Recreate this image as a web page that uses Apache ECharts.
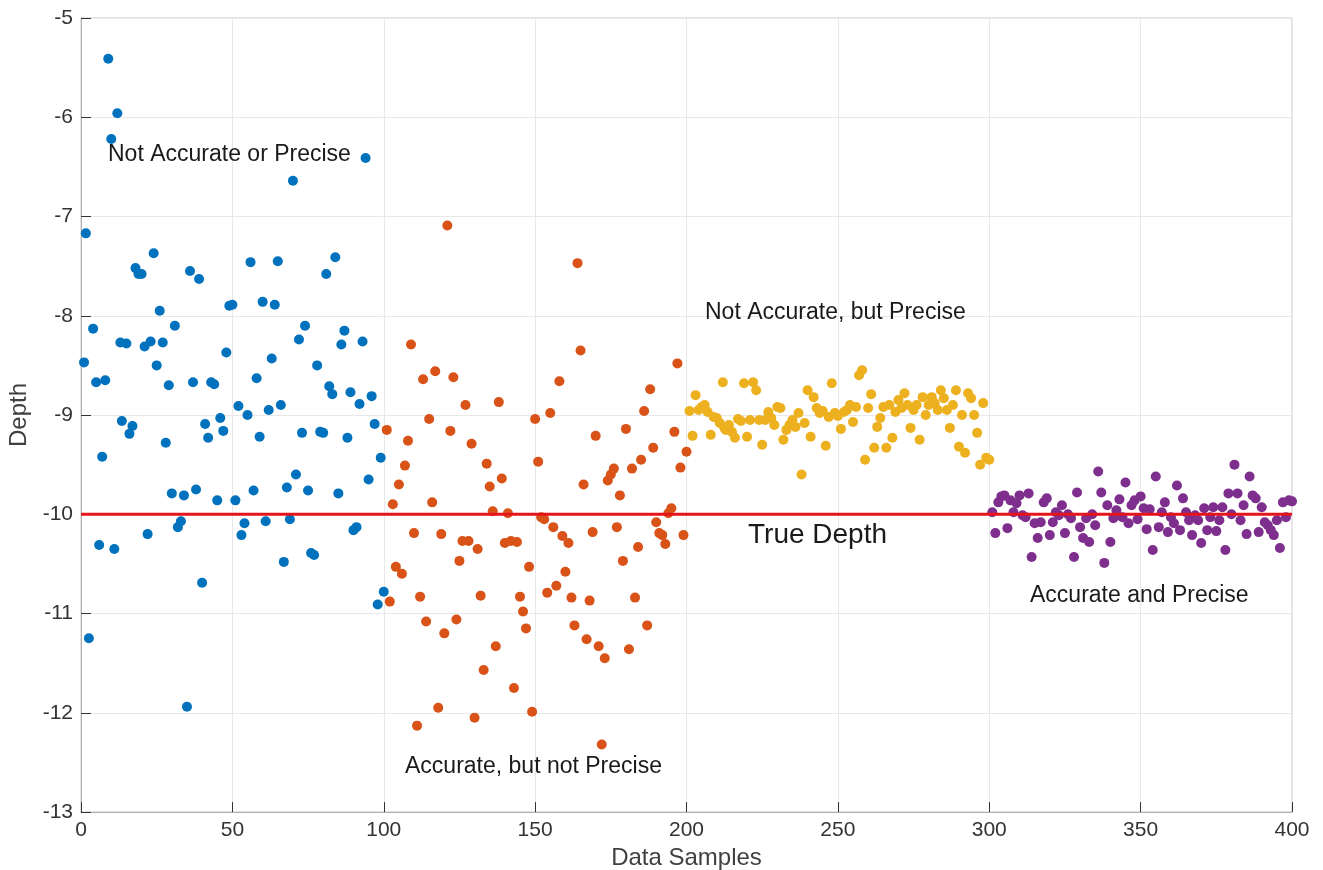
<!DOCTYPE html>
<html><head><meta charset="utf-8">
<script src="https://cdn.jsdelivr.net/npm/echarts@6/dist/echarts.min.js"></script>
<style>html,body{margin:0;padding:0;background:#fff}#c{width:1323px;height:870px}</style>
</head><body><div id="c"></div>
<script>
// x tick values and labels
const xTicks = [0,50,100,150,200,250,300,350,400];
const yTicks = [-13,-12,-11,-10,-9,-8,-7,-6,-5];
const trueDepth = -10;

// Series 1: Not Accurate or Precise (samples 1-100)
const blueX = [1.6,1,2.6,4,5,6,7,8,9,10,11,12,13,13.5,15,16,17,18,19,20,21,22,23,24,25,26,27,28,29,30,31,32,33,34,35,36,37,38,39,40,41,42,43,44,45,46,47,48,49,50,51,52,53,54,55,56,57,58,59,60,61,62,63,64,65,66,67,68,69,70,71,72,73,74,75,76,77,78,79,80,81,82,83,84,85,86,87,88,89,90,91,92,93,94,95,96,97,98,99,100];
const blueY = [-7.17,-8.47,-11.25,-8.13,-8.67,-10.31,-9.42,-8.65,-5.41,-6.22,-10.35,-5.96,-8.27,-9.06,-8.28,-9.19,-9.11,-7.52,-7.58,-7.58,-8.31,-10.2,-8.26,-7.37,-8.5,-7.95,-8.27,-9.28,-8.7,-9.79,-8.1,-10.13,-10.07,-9.81,-11.94,-7.55,-8.67,-9.75,-7.63,-10.69,-9.09,-9.23,-8.67,-8.69,-9.86,-9.03,-9.16,-8.37,-7.9,-7.89,-9.86,-8.91,-10.21,-10.09,-9.0,-7.46,-9.76,-8.63,-9.22,-7.86,-10.07,-8.95,-8.43,-7.89,-7.45,-8.9,-10.48,-9.73,-10.05,-6.64,-9.6,-8.24,-9.18,-8.1,-9.76,-10.39,-10.41,-8.5,-9.17,-9.18,-7.58,-8.71,-8.79,-7.41,-9.79,-8.29,-8.15,-9.23,-8.77,-10.16,-10.13,-8.89,-8.26,-6.41,-9.65,-8.81,-9.09,-10.91,-9.43,-10.78];

// Series 2: Accurate, but not Precise (samples 101-200)
const orangeX = [101,102,103,104,105,106,107,108,109,110,111,112,113,114,115,116,117,118,119,120,121,122,123,124,125,126,127,128,129,130,131,132,133,134,135,136,137,138,139,140,141,142,143,144,145,146,147,148,149,150,151,152,153,154,155,156,157,158,159,160,161,162,163,164,165,166,167,168,169,170,171,172,173,174,175,176,177,178,179,180,181,182,183,184,185,186,187,188,189,190,191,192,193,194,195,196,197,198,199,200];
const orangeY = [-9.15,-10.88,-9.9,-10.53,-9.7,-10.6,-9.51,-9.26,-8.29,-10.19,-12.13,-10.83,-8.64,-11.08,-9.04,-9.88,-8.56,-11.95,-10.2,-11.2,-7.09,-9.16,-8.62,-11.06,-10.47,-10.27,-8.9,-10.27,-9.29,-12.05,-10.35,-10.82,-11.57,-9.49,-9.72,-9.97,-11.33,-8.87,-9.64,-10.29,-9.99,-10.27,-11.75,-10.28,-10.83,-10.98,-11.15,-10.53,-11.99,-9.04,-9.47,-10.03,-10.05,-10.79,-8.98,-10.13,-10.72,-8.66,-10.22,-10.58,-10.29,-10.84,-11.12,-7.47,-8.35,-9.7,-11.26,-10.87,-10.18,-9.21,-11.33,-12.32,-11.45,-9.66,-9.6,-9.54,-10.13,-9.81,-10.47,-9.14,-11.36,-9.54,-10.84,-10.33,-9.45,-8.96,-11.12,-8.74,-9.33,-10.08,-10.19,-10.21,-10.3,-9.99,-9.94,-9.17,-8.48,-9.53,-10.21,-9.37];

// Series 3: Not Accurate, but Precise (samples 201-300)
const yellowX = [201,202,203,204,205,206,207,208,209,210,211,212,212.5,213,214,215,216,217,218,219,220,221,222,223,224,225,226,227,228,229,230,231,232,233,234,235,236,237,238,239,240,241,242,243,244,245,246,247,248,249,250,251,252,253,254,255,256,257,258,259,260,261,262,263,264,265,266,267,268,269,270,271,272,273,274,275,276,277,278,279,280,281,282,283,284,285,286,287,288,289,290,291,292,293,294,295,296,297,298,299,300];
const yellowY = [-8.96,-9.21,-8.8,-8.95,-8.92,-8.9,-8.97,-9.2,-9.02,-9.03,-9.08,-8.67,-9.13,-9.15,-9.1,-9.17,-9.23,-9.04,-9.06,-8.68,-9.22,-9.05,-8.67,-8.75,-9.05,-9.3,-9.05,-8.97,-9.03,-9.1,-8.92,-8.93,-9.25,-9.15,-9.1,-9.05,-9.12,-8.98,-9.6,-9.08,-8.75,-9.22,-8.82,-8.93,-8.98,-8.96,-9.31,-9.02,-8.68,-8.98,-9.01,-9.14,-8.97,-8.95,-8.9,-9.07,-8.92,-8.6,-8.55,-9.45,-8.93,-8.79,-9.33,-9.12,-9.03,-8.92,-9.33,-8.9,-9.23,-8.97,-8.85,-8.93,-8.78,-8.9,-9.13,-8.95,-8.9,-9.25,-8.82,-9.0,-8.9,-8.82,-8.88,-8.95,-8.75,-8.83,-8.95,-9.13,-8.9,-8.75,-9.32,-9.0,-9.38,-8.78,-8.83,-9.0,-9.18,-9.5,-8.88,-9.43,-9.45];

// Series 4: Accurate and Precise (samples 301-400)
const purpleX = [301,302,303,304,305,306,307,308,309,310,311,312,313,314,315,316,317,318,319,320,321,322,323,324,325,326,327,328,329,330,331,332,333,334,335,336,337,338,339,340,341,342,343,344,345,346,347,348,349,350,351,352,353,354,355,356,357,358,359,360,361,362,363,364,365,366,367,368,369,370,371,372,373,374,375,376,377,378,379,380,381,382,383,384,385,386,387,388,389,390,391,392,393,394,395,396,397,398,399,400];
const purpleY = [-9.98,-10.19,-9.88,-9.82,-9.81,-10.14,-9.86,-9.98,-9.89,-9.81,-10.01,-10.03,-9.79,-10.43,-10.09,-10.24,-10.08,-9.88,-9.84,-10.21,-10.08,-9.98,-10.01,-9.91,-10.19,-10.0,-10.04,-10.43,-9.78,-10.13,-10.24,-10.04,-10.28,-10.0,-10.11,-9.57,-9.78,-10.49,-9.91,-10.28,-10.04,-9.96,-9.85,-10.03,-9.68,-10.09,-9.91,-9.86,-10.05,-9.82,-9.94,-10.15,-9.95,-10.36,-9.62,-10.13,-9.98,-9.88,-10.18,-10.03,-10.09,-9.71,-10.16,-9.84,-9.98,-10.06,-10.21,-10.01,-10.06,-10.29,-9.94,-10.16,-10.03,-9.93,-10.17,-10.06,-9.93,-10.36,-9.79,-10.0,-9.5,-9.79,-10.06,-9.91,-10.2,-9.62,-9.81,-9.84,-10.18,-9.93,-10.08,-10.11,-10.16,-10.21,-10.06,-10.34,-9.88,-10.03,-9.86,-9.87];

const colors = ['#0072BD','#D95319','#EDB120','#7E2F8E'];
const zip = (xs, ys) => xs.map((x, i) => [x, ys[i]]);

const chart = echarts.init(document.getElementById('c'));
const font = 'Liberation Sans, Arial, Helvetica, sans-serif';
const mkScatter = (name, xs, ys, c) => ({
  name, type: 'scatter', data: zip(xs, ys), symbolSize: 10,
  itemStyle: { color: c, opacity: 1 }, z: 3
});
const txt = (s, x, y, size) => ({
  type: 'text', x, y, z: 10,
  style: { text: s, font: size + 'px ' + font, fill: '#1a1a1a', verticalAlign: 'middle', align: 'left' }
});
chart.setOption({
  animation: false,
  backgroundColor: '#fff',
  grid: { left: 81, right: 31, top: 18, bottom: 58, outerBoundsMode: 'none', containLabel: false,
          show: true, borderColor: '#c8c8c8', borderWidth: 1 },
  xAxis: {
    type: 'value', min: 0, max: 400, interval: 50,
    name: 'Data Samples', nameLocation: 'middle', nameGap: 32,
    nameTextStyle: { fontFamily: font, fontSize: 24, color: '#404040' },
    axisLine: { show: true, lineStyle: { color: '#b0b0b0' } },
    axisTick: { show: true, inside: true, length: 10, lineStyle: { color: '#333' } },
    axisLabel: { fontFamily: font, fontSize: 21, color: '#333', margin: 8 },
    splitLine: { show: true, lineStyle: { color: '#e8e8e8' } }
  },
  yAxis: {
    type: 'value', min: -13, max: -5, interval: 1,
    name: 'Depth', nameLocation: 'middle', nameGap: 49, nameRotate: 90,
    nameTextStyle: { fontFamily: font, fontSize: 24, color: '#404040' },
    axisLine: { show: true, lineStyle: { color: '#b0b0b0' } },
    axisTick: { show: true, inside: true, length: 10, lineStyle: { color: '#333' } },
    axisLabel: { fontFamily: font, fontSize: 21, color: '#333', margin: 8 },
    splitLine: { show: true, lineStyle: { color: '#e8e8e8' } }
  },
  series: [
    mkScatter('Not Accurate or Precise', blueX, blueY, colors[0]),
    mkScatter('Accurate, but not Precise', orangeX, orangeY, colors[1]),
    mkScatter('Not Accurate, but Precise', yellowX, yellowY, colors[2]),
    mkScatter('Accurate and Precise', purpleX, purpleY, colors[3]),
    { name: 'True Depth', type: 'line', data: [[0, trueDepth], [400, trueDepth]],
      symbol: 'none', lineStyle: { color: '#e5141b', width: 3 }, z: 4 }
  ],
  graphic: [
    txt('Not Accurate or Precise', 108, 155, 23),
    txt('Not Accurate, but Precise', 705, 313, 23),
    txt('True Depth', 748, 535, 28),
    txt('Accurate and Precise', 1030, 596, 23),
    txt('Accurate, but not Precise', 405, 767, 23)
  ]
});
</script></body></html>
